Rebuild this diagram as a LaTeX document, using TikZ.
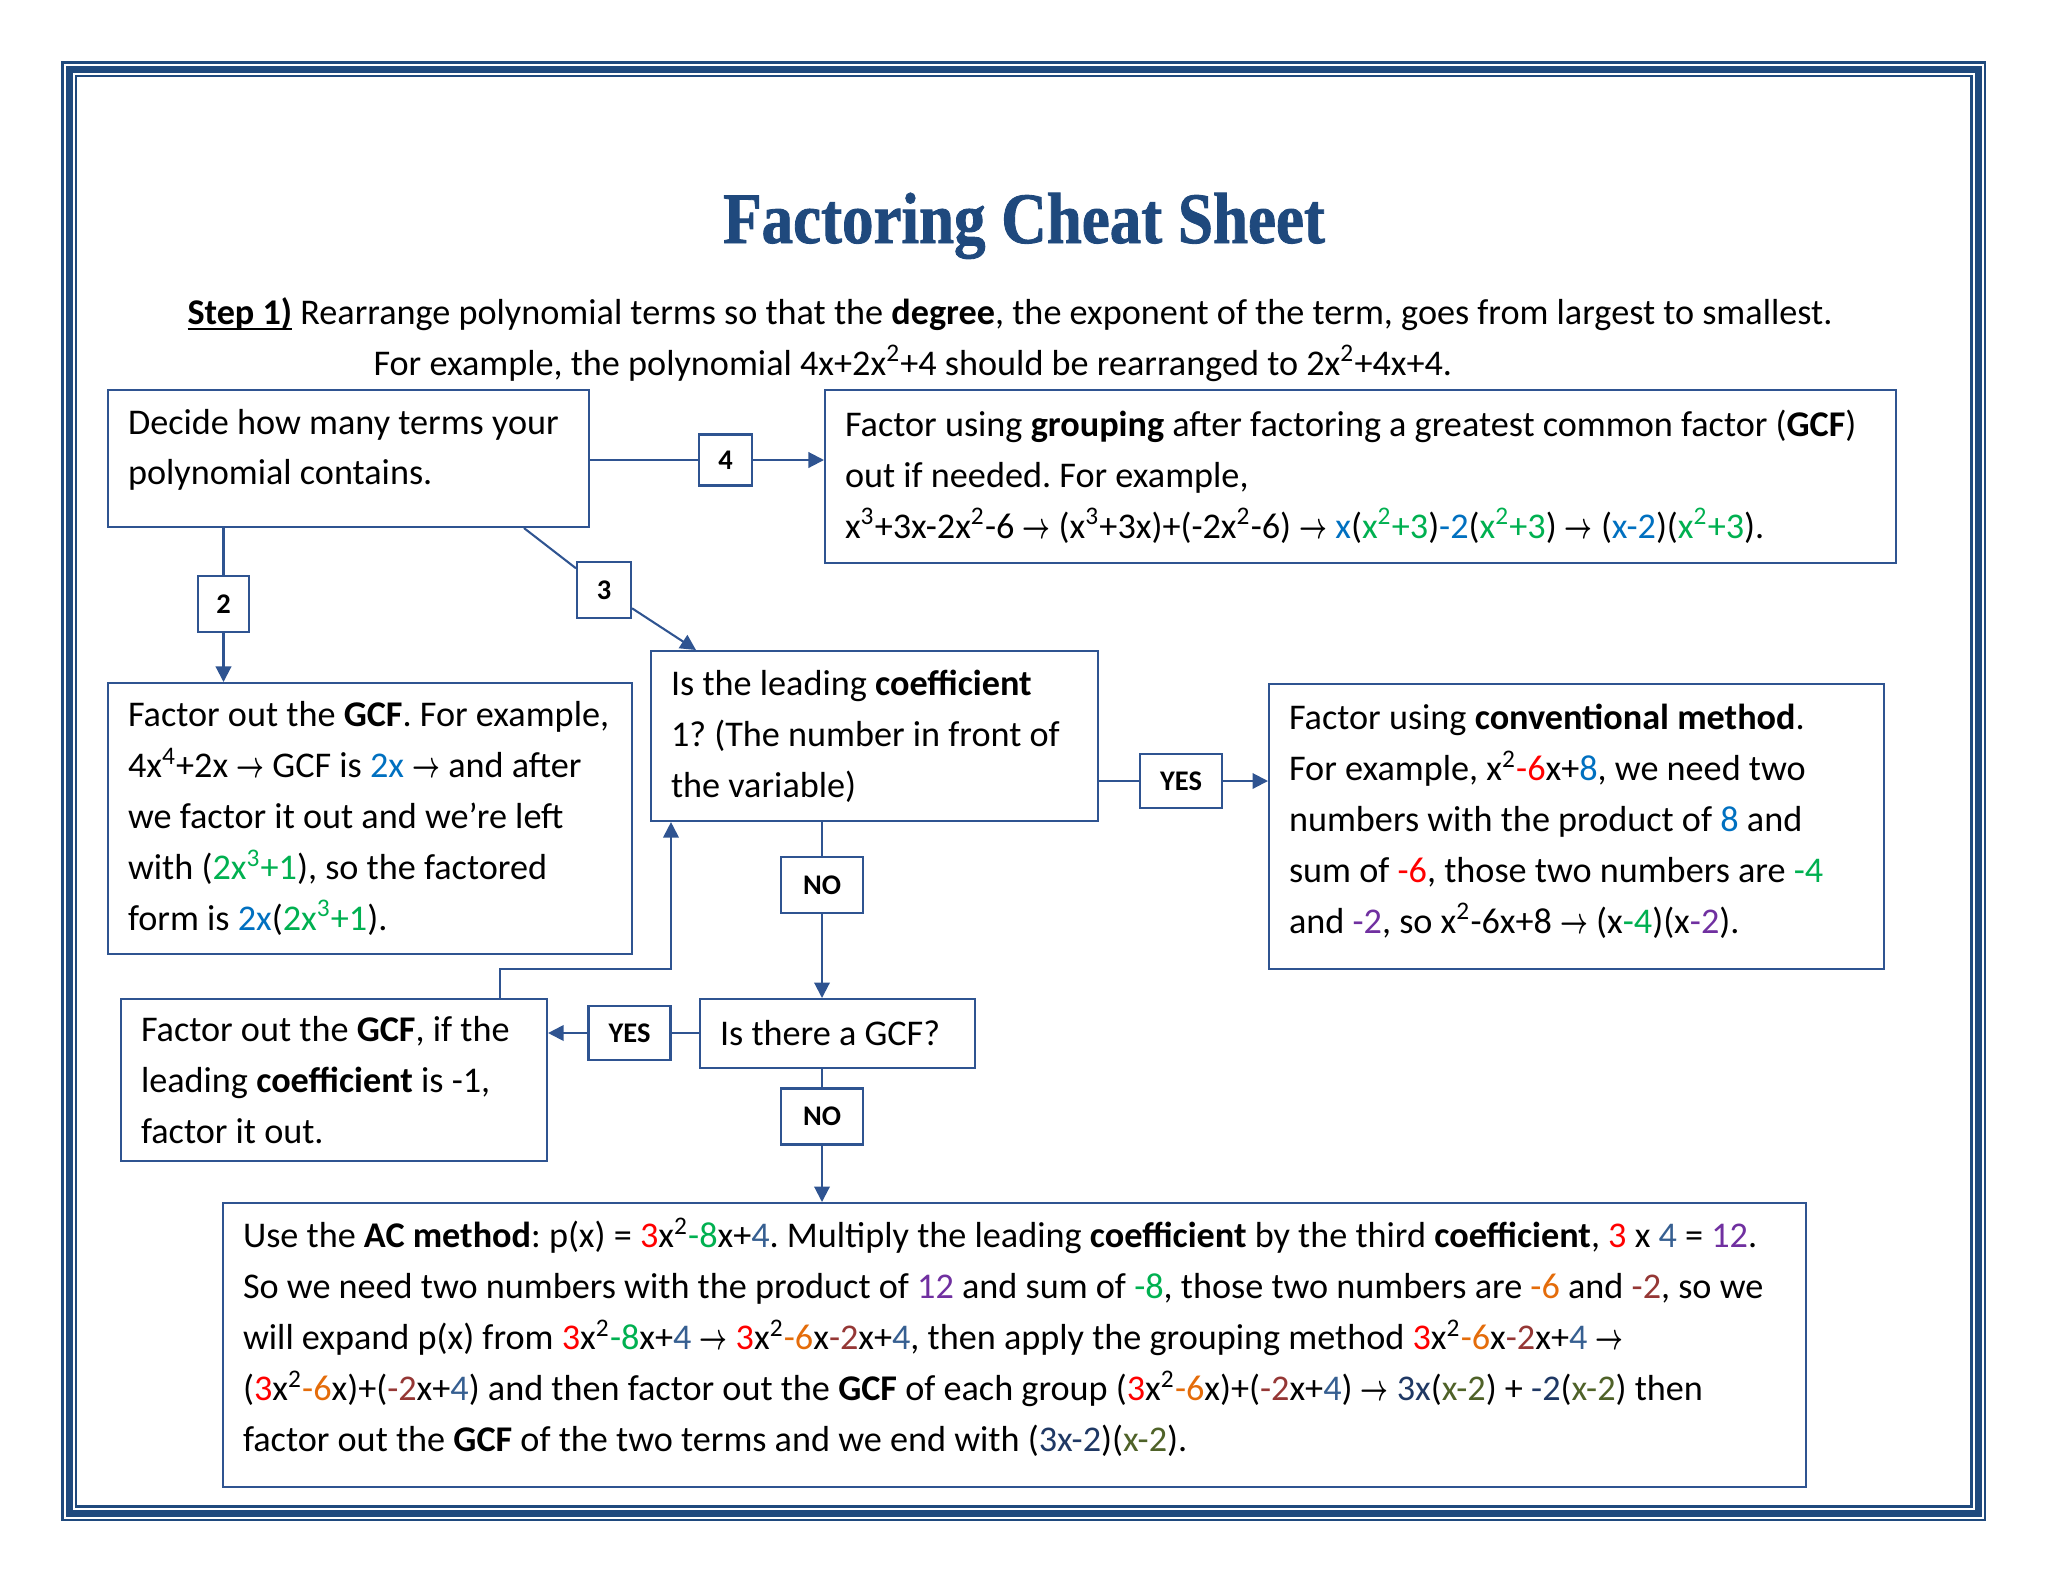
\documentclass[tikz,border=0pt]{standalone}
\usepackage{fontspec}
\setmainfont{Carlito}
\newfontfamily\titlefont[FakeStretch=0.87, FakeBold=1.2]{Liberation Serif}
\usepackage{xcolor}
\usepackage{graphicx}
\usetikzlibrary{arrows.meta, positioning, calc}

\definecolor{sheetblue}{RGB}{31,73,125}
\definecolor{edgeblue}{RGB}{47,84,145}
\definecolor{tblue}{RGB}{0,112,192}
\definecolor{tgreen}{RGB}{0,176,80}
\definecolor{tred}{RGB}{255,0,0}
\definecolor{tpurple}{RGB}{112,48,160}
\definecolor{torange}{RGB}{228,108,10}
\definecolor{tbrown}{RGB}{149,55,53}
\definecolor{tacblue}{RGB}{54,95,145}
\definecolor{tnavy}{RGB}{31,56,100}
\definecolor{tolive}{RGB}{79,98,40}

% coloured bits of the worked examples
\newcommand{\cB}[1]{\textcolor{tblue}{#1}}
\newcommand{\cG}[1]{\textcolor{tgreen}{#1}}
\newcommand{\cR}[1]{\textcolor{tred}{#1}}
\newcommand{\cP}[1]{\textcolor{tpurple}{#1}}
\newcommand{\cO}[1]{\textcolor{torange}{#1}}
\newcommand{\cBr}[1]{\textcolor{tbrown}{#1}}
\newcommand{\cA}[1]{\textcolor{tacblue}{#1}}
\newcommand{\cN}[1]{\textcolor{tnavy}{#1}}
\newcommand{\cOl}[1]{\textcolor{tolive}{#1}}
\newcommand{\goes}{\scalebox{0.65}[1]{\boldmath$\rightarrow$}}
% thick underline for the step heading
\newcommand{\stepul}[1]{\setbox0\hbox{#1}\rlap{\rule[-2.4pt]{\wd0}{1pt}}#1}
% extra depth under the last line, moves the text up in its box
\newcommand{\lift}[1]{\rule[-#1]{0pt}{0pt}}
\newcommand{\pxs}{0.38672pt}
\frenchspacing

\begin{document}
\begin{tikzpicture}[x=0.38672pt, y=-0.38672pt,
  box/.style={draw=edgeblue, line width=0.8pt, align=left, anchor=north west,
    inner xsep=7.7pt, inner ysep=0pt, font=\fontsize{14}{19.7}\selectfont,
    execute at begin node={\spaceskip=0pt\xspaceskip=0pt\hyphenpenalty=10000}},
  lbl/.style={draw=edgeblue, line width=0.8pt, fill=white, inner sep=0pt,
    font=\fontsize{11}{13}\selectfont\bfseries},
  conn/.style={edgeblue, line width=0.8pt},
  arr/.style={conn, -{Triangle[length=6pt, width=6pt]}}]
\useasboundingbox (0,0) rectangle (2048,1583);

% page frame
\draw[sheetblue, line width=0.8pt] (62.5,62.5) rectangle (1985,1520);
\draw[sheetblue, line width=2.7pt] (69.5,69.5) rectangle (1978,1513);
\draw[sheetblue, line width=0.8pt] (76,76) rectangle (1971.5,1506.5);

\node[anchor=base, text=sheetblue, font=\titlefont\bfseries\fontsize{28}{30}\selectfont] (title) at (1024,243) {Factoring Cheat Sheet};

\node[anchor=base west, inner sep=0pt, font=\fontsize{14}{19.7}\selectfont] (step) at (187,324) {\stepul{\textbf{Step 1)}} Rearrange polynomial terms so that the \textbf{degree}, the exponent of the term, goes from largest to smallest.};
\node[anchor=base west, inner sep=0pt, font=\fontsize{14}{19.7}\selectfont] (example) at (373,375) {For example, the polynomial 4x+2x\textsuperscript{2}+4 should be rearranged to 2x\textsuperscript{2}+4x+4.};

% boxes
\node[box, minimum width={481*\pxs}, minimum height={137*\pxs}, text width={441*\pxs}] (decide) at (107,389) {Decide how many terms your\\ polynomial contains.\lift{9pt}};

\node[box, minimum width={1071*\pxs}, minimum height={173*\pxs}, text width={1031*\pxs}] (group) at (824,389) {Factor using \textbf{grouping} after factoring a greatest common factor (\textbf{GCF})\\ out if needed. For example,\\ x\textsuperscript{3}+3x-2x\textsuperscript{2}-6 \goes{} (x\textsuperscript{3}+3x)+(-2x\textsuperscript{2}-6) \goes{} \cB{x}(\cG{x\textsuperscript{2}+3})\cB{-2}(\cG{x\textsuperscript{2}+3}) \goes{} (\cB{x-2})(\cG{x\textsuperscript{2}+3}).\lift{2pt}};

\node[box, minimum width={524*\pxs}, minimum height={271*\pxs}, text width={484*\pxs}] (gcf) at (107,682) {Factor out the \textbf{GCF}. For example,\\ 4x\textsuperscript{4}+2x \goes{} GCF is \cB{2x} \goes{} and after\\ we factor it out and we're left\\ with (\cG{2x\textsuperscript{3}+1}), so the factored\\ form is \cB{2x}(\cG{2x\textsuperscript{3}+1}).};

\node[box, minimum width={447*\pxs}, minimum height={170*\pxs}, text width={407*\pxs}] (coef) at (650,650) {Is the leading \textbf{coefficient}\\ 1? (The number in front of\\ the variable)};

\node[box, minimum width={615*\pxs}, minimum height={285*\pxs}, text width={575*\pxs}] (conv) at (1268,683) {Factor using \textbf{conventional method}.\\ For example, x\textsuperscript{2}\cR{-6}x+\cB{8}, we need two\\ numbers with the product of \cB{8} and\\ sum of \cR{-6}, those two numbers are \cG{-4}\\ and \cP{-2}, so x\textsuperscript{2}-6x+8 \goes{} (x\cG{-4})(x\cP{-2}).\lift{6pt}};

\node[box, minimum width={275*\pxs}, minimum height={69*\pxs}, text width={235*\pxs}] (isgcf) at (699,998) {Is there a GCF?};

\node[box, minimum width={426*\pxs}, minimum height={162*\pxs}, text width={386*\pxs}] (neg) at (120,998) {Factor out the \textbf{GCF}, if the\\ leading \textbf{coefficient} is -1,\\ factor it out.};

\node[box, minimum width={1583*\pxs}, minimum height={284*\pxs}, text width={1543*\pxs}] (ac) at (222,1202) {Use the \textbf{AC method}: p(x) = \cR{3}x\textsuperscript{2}\cG{-8}x+\cA{4}. Multiply the leading \textbf{coefficient} by the third \textbf{coefficient}, \cR{3} x \cA{4} = \cP{12}.\\ So we need two numbers with the product of \cP{12} and sum of \cG{-8}, those two numbers are \cO{-6} and \cBr{-2}, so we\\ will expand p(x) from \cR{3}x\textsuperscript{2}\cG{-8}x+\cA{4} \goes{} \cR{3}x\textsuperscript{2}\cO{-6}x\cBr{-2}x+\cA{4}, then apply the grouping method \cR{3}x\textsuperscript{2}\cO{-6}x\cBr{-2}x+\cA{4} \goes\\ (\cR{3}x\textsuperscript{2}\cO{-6}x)+(\cBr{-2}x+\cA{4}) and then factor out the \textbf{GCF} of each group (\cR{3}x\textsuperscript{2}\cO{-6}x)+(\cBr{-2}x+\cA{4}) \goes{} \cN{3x}(\cOl{x-2}) + \cN{-2}(\cOl{x-2}) then\\ factor out the \textbf{GCF} of the two terms and we end with (\cN{3x-2})(\cOl{x-2}).\lift{8pt}};

% branch labels
\node[lbl, minimum width={53*\pxs}, minimum height={51*\pxs}] (n4) at (725.5,460) {4};
\node[lbl, minimum width={51*\pxs}, minimum height={56*\pxs}] (n2) at (223.5,604) {2};
\node[lbl, minimum width={54*\pxs}, minimum height={56*\pxs}] (n3) at (604,590) {3};
\node[lbl, minimum width={82*\pxs}, minimum height={54*\pxs}] (yesR) at (1181,781) {YES};
\node[lbl, minimum width={82*\pxs}, minimum height={56*\pxs}] (noA) at (822,885) {NO};
\node[lbl, minimum width={82*\pxs}, minimum height={54*\pxs}] (yesL) at (629.5,1033) {YES};
\node[lbl, minimum width={82*\pxs}, minimum height={56*\pxs}] (noB) at (822,1116.5) {NO};

% connectors
\draw[conn] (decide.east |- n4) -- (n4);
\draw[arr] (n4) -- (group.west |- n4);
\draw[conn] (decide.south -| n2) -- (n2);
\draw[arr] (n2) -- (gcf.north -| n2);
\draw[conn] ([xshift={417*\pxs}]decide.south west) -- (n3);
\draw[arr] (n3) -- ([xshift={46*\pxs}]coef.north west);
\draw[conn] (coef.east |- yesR) -- (yesR);
\draw[arr] (yesR) -- (conv.west |- yesR);
\draw[conn] (coef.south -| noA) -- (noA);
\draw[arr] (noA) -- (isgcf.north -| noA);
\draw[conn] (isgcf.west |- yesL) -- (yesL);
\draw[arr] (yesL) -- (neg.east |- yesL);
\draw[conn] (isgcf.south -| noB) -- (noB);
\draw[arr] (noB) -- (ac.north -| noB);
\coordinate (bend) at (671,969);
\draw[arr] ([xshift={380*\pxs}]neg.north west) |- (bend) -- (coef.south -| bend);
\end{tikzpicture}
\end{document}
